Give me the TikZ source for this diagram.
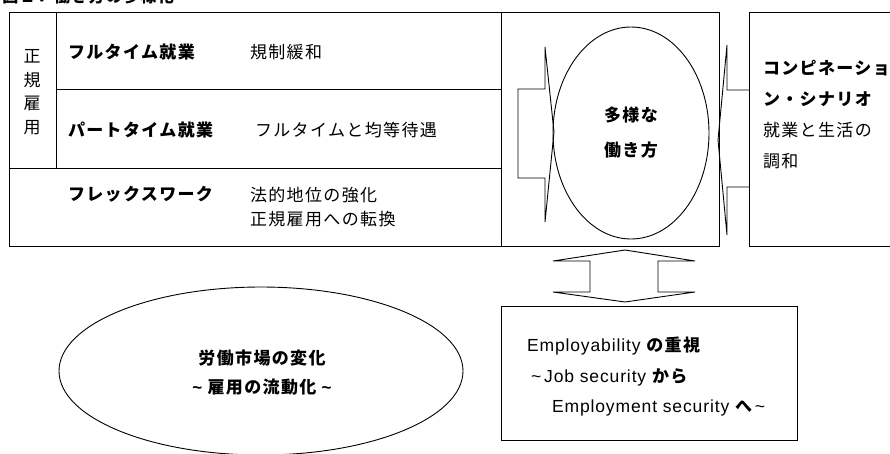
\documentclass[tikz,border=0pt]{standalone}
\usepackage{fontspec}
\setmainfont{Liberation Sans}
\newfontfamily\jp{Noto Sans CJK JP}[LetterSpace=8]
\newfontfamily\lat{Liberation Sans}[LetterSpace=5]
\usetikzlibrary{shapes.geometric}
\begin{document}
\begin{tikzpicture}[x=1pt,y=-1pt,line width=0.9pt,
  box/.style={draw,inner sep=0pt,outer sep=0pt},
  txt/.style={inner sep=0pt,outer sep=0pt,font=\jp\fontsize{17}{20}\selectfont},
  btxt/.style={txt,font=\jp\bfseries\fontsize{17}{20}\selectfont},
  blockarrow/.style={draw,line join=miter}]
\useasboundingbox (0,0) rectangle (890,453);
% title (cut at the top edge)
\node[anchor=base west,inner sep=0pt,font=\jp\bfseries\fontsize{16}{18}\selectfont] (title) at (2,2) {図１．働き方の多様化};
% boxes
\node[box,minimum width=492pt,minimum height=234pt] (table) at (255,129) {};
\node[box,minimum width=218pt,minimum height=234pt] (mid) at (610,129) {};
\node[box,minimum width=160pt,minimum height=234pt] (right) at (829,129) {};
\node[box,minimum width=296pt,minimum height=134pt] (bottom) at (649,373) {};
\coordinate (v1) at (56,12);
\coordinate (v2) at (56,168);
\coordinate (h1a) at (56,89);
\coordinate (h1b) at (501,89);
\coordinate (h2a) at (9,168);
\coordinate (h2b) at (501,168);
\draw (v1) -- (v2);
\draw (h1a) -- (h1b);
\draw (h2a) -- (h2b);
% table texts
\node[txt,align=center,font=\jp\fontsize{17}{23.5}\selectfont] (seiki) at (32,92) {正\\規\\雇\\用};
\node[btxt,anchor=west] (full) at (68,52) {フルタイム就業};
\node[txt,anchor=west] (kisei) at (250,52) {規制緩和};
\node[btxt,anchor=west] (part) at (68,130) {パートタイム就業};
\node[txt,anchor=west] (kinto) at (255,130) {フルタイムと均等待遇};
\node[btxt,anchor=west] (flex) at (68,194) {フレックスワーク};
\node[txt,anchor=west,align=left,font=\jp\fontsize{17}{24}\selectfont] (hoteki) at (250,207) {法的地位の強化\\正規雇用への転換};
% central ellipse
\node[draw,ellipse,inner sep=0pt,minimum width=156pt,minimum height=212pt,align=center,font=\jp\bfseries\fontsize{17}{35}\selectfont] (tayo) at (631,133) {多様な\\働き方};
% right box text
\node[txt,anchor=north west,align=left,font=\jp\fontsize{17}{31}\selectfont] (combi) at (763,60) {{\bfseries コンピネーショ}\\{\bfseries ン・シナリオ}\\就業と生活の\\調和};
% block arrows
\draw[blockarrow] (518,89) -- (545,89) -- (545,47) -- (554,132) -- (545,222) -- (545,178) -- (518,178) -- cycle;
\draw[blockarrow] (right.west |- 0,90) -- (727,90) -- (727,45) -- (718,140) -- (727,235) -- (727,187) -- (right.west |- 0,187);
\draw[blockarrow] (625,250) -- (695,261) -- (658,261) -- (658,292) -- (695,292) -- (625,302) -- (553,292) -- (590,292) -- (590,261) -- (553,261) -- cycle;
% bottom box text
\node[txt,anchor=west] (emp1) at (527,346) {{\lat\fontsize{17.5}{20}\selectfont Employability }\bfseries の重視};
\node[txt,anchor=west] (emp2) at (531,377) {{\lat\fontsize{17.5}{20}\selectfont\textasciitilde\,Job security }\bfseries から};
\node[txt,anchor=west] (emp3) at (552,408) {{\lat\fontsize{17.5}{20}\selectfont Employment security }{\bfseries へ}{\lat\fontsize{17.5}{20}\selectfont\,\textasciitilde}};
% bottom ellipse
\node[draw,ellipse,inner sep=0pt,minimum width=404pt,minimum height=168pt] (market) at (261,371) {};
\node[align=center,inner sep=0pt,font=\jp\bfseries\fontsize{17}{29}\selectfont] (markettxt) at (262,372.5) {労働市場の変化\\{\lat\bfseries\textasciitilde} 雇用の流動化 {\lat\bfseries\textasciitilde}};
\end{tikzpicture}
\end{document}
